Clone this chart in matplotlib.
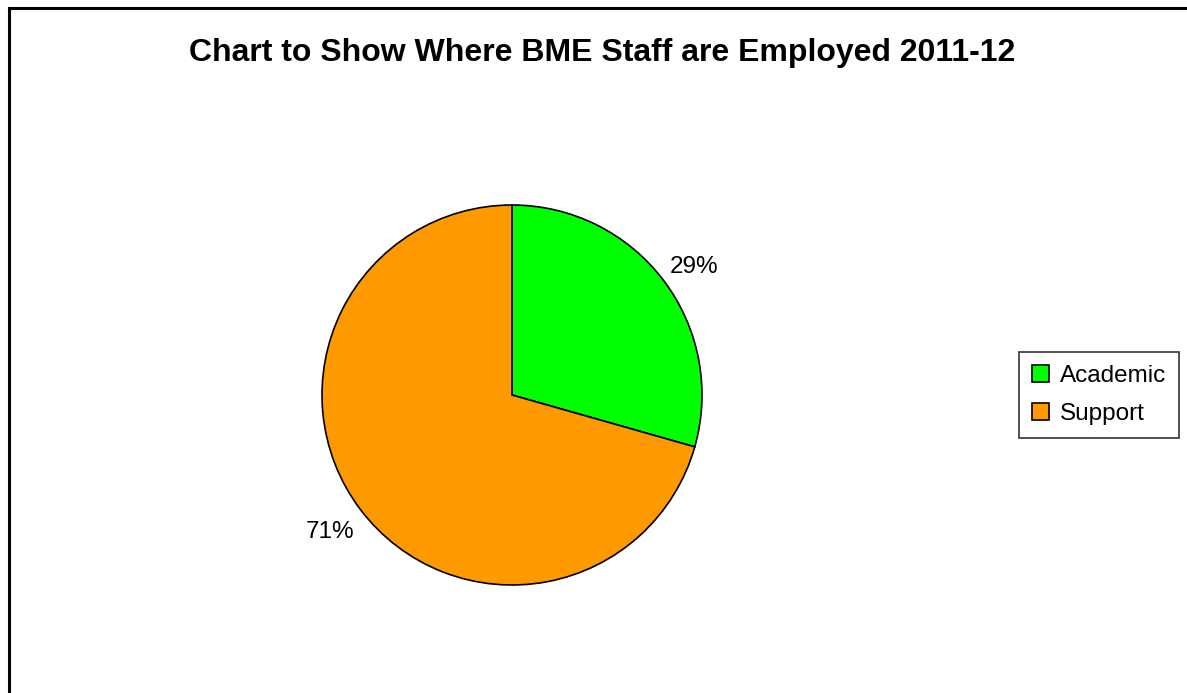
import matplotlib.pyplot as plt
from matplotlib.patches import Rectangle

# data
labels = ["Academic", "Support"]
shares = [29.4, 70.6]
colours = ["#00FF00", "#FF9900"]

plt.rcParams['font.family'] = ['Liberation Sans', 'DejaVu Sans']

W, H = 1187, 693
fig = plt.figure(figsize=(W / 100, H / 100), dpi=100)

# outer chart border (runs off right / bottom edge like the original)
fig.patches.append(Rectangle((9 / W, -0.1), 1.2, 1 - 8 / H + 0.1,
                             transform=fig.transFigure, fill=False,
                             edgecolor='black', linewidth=2.2))

fig.text(602 / W, 1 - 53 / H, "Chart to Show Where BME Staff are Employed 2011-12",
         ha='center', va='center', fontsize=23, fontweight='bold')

# pie: centre (512, 395), radius 190 px
r = 190
ax = fig.add_axes([(512 - r) / W, (H - 395 - r) / H, 2 * r / W, 2 * r / H])
wedges, texts, autotexts = ax.pie(shares, colors=colours, startangle=90, counterclock=False,
                                  autopct='%1.0f%%', pctdistance=1.2,
                                  wedgeprops=dict(edgecolor='black', linewidth=1.2),
                                  textprops=dict(fontsize=17.5))
# Excel puts the top label a little lower than the mid-angle
autotexts[0].set_y(autotexts[0].get_position()[1] - 0.05)
ax.set_xlim(-1, 1)
ax.set_ylim(-1, 1)
ax.set_aspect('equal')
ax.axis('off')

leg = fig.legend(wedges, labels, loc='center', bbox_to_anchor=(1099 / W, 1 - 395 / H),
                 fontsize=17.5, frameon=True, fancybox=False, edgecolor='black',
                 handlelength=0.7, handleheight=0.7, handletextpad=0.45,
                 labelspacing=0.65, borderpad=0.55)
leg.get_frame().set_linewidth(1.2)

fig.savefig("out.png", dpi=100)
